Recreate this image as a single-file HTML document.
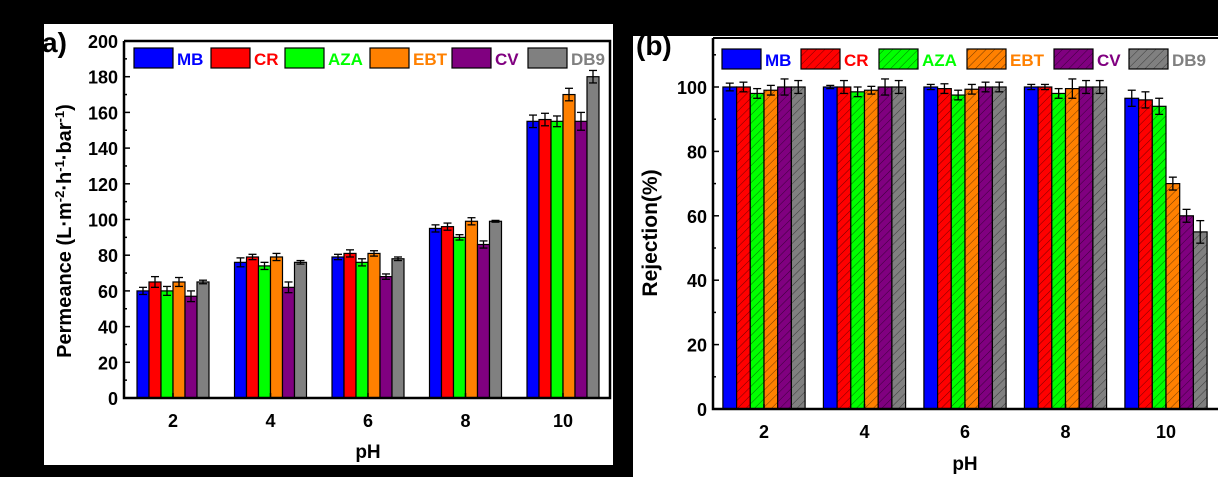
<!DOCTYPE html>
<html><head><meta charset="utf-8"><style>
html,body{margin:0;padding:0;background:#000;width:1218px;height:477px;overflow:hidden}
svg{display:block;font-family:"Liberation Sans",Arial,sans-serif;font-weight:bold}
</style></head><body>
<svg id="s" width="1218" height="477" viewBox="0 0 1218 477" xmlns="http://www.w3.org/2000/svg">
<defs>
<pattern id="h" patternUnits="userSpaceOnUse" width="6" height="6" patternTransform="rotate(45)">
<line x1="0" y1="0" x2="0" y2="6" stroke="#000" stroke-width="1" opacity="0.55"/></pattern>
<clipPath id="c1"><rect x="44" y="24" width="569" height="441"/></clipPath>
<clipPath id="c2"><rect x="633" y="36" width="585" height="441"/></clipPath>
</defs>
<rect x="0" y="0" width="1218" height="477" fill="#000"/>
<rect x="44" y="24" width="569" height="441" fill="#fff"/>
<rect x="633" y="36" width="585" height="441" fill="#fff"/>
<g id="g"></g>
<text x="42" y="52" font-size="28" fill="#000" clip-path="url(#c1)">a)</text>
<text x="636" y="55" font-size="28" fill="#000" clip-path="url(#c2)">(b)</text>
<text x="368" y="458" font-size="19" text-anchor="middle">pH</text>
<text x="965" y="470" font-size="19" text-anchor="middle">pH</text>
<text transform="translate(71,231) rotate(-90)" font-size="20" text-anchor="middle">Permeance (L·m<tspan dy="-7" font-size="13">-2</tspan><tspan dy="7">·h</tspan><tspan dy="-7" font-size="13">-1</tspan><tspan dy="7">·bar</tspan><tspan dy="-7" font-size="13">-1</tspan><tspan dy="7">)</tspan></text>
<text transform="translate(657,233) rotate(-90)" font-size="21" text-anchor="middle">Rejection(%)</text>
</svg>
<script>
var g=document.getElementById('g'),NS='http://www.w3.org/2000/svg';
function el(t,a,txt){var e=document.createElementNS(NS,t);for(var k in a)e.setAttribute(k,a[k]);if(txt!=null)e.textContent=txt;g.appendChild(e);return e;}
var cols=['#0000ff','#ff0000','#00ff00','#ff8000','#800080','#808080'];
var names=['MB','CR','AZA','EBT','CV','DB9'];
function panel(o){
 for(var i=0;i<5;i++){var cx=o.x0+i*o.dx;
  for(var j=0;j<6;j++){var v=o.d[i][j],x=cx-3*o.bw+j*o.bw,y=o.y0-v*o.k;
   el('rect',{x:x,y:y,width:o.bw,height:o.y0-y,fill:cols[j],stroke:'#000','stroke-width':1.2});
   if(o.hatch&&j>0)el('rect',{x:x,y:y,width:o.bw,height:o.y0-y,fill:'url(#h)'});
   var e=o.e[i][j]*o.k,mx=x+o.bw/2;
   el('line',{x1:mx,y1:y-e,x2:mx,y2:y+e,stroke:'#000','stroke-width':1.3});
   el('line',{x1:mx-4,y1:y-e,x2:mx+4,y2:y-e,stroke:'#000','stroke-width':1.3});
   el('line',{x1:mx-4,y1:y+e,x2:mx+4,y2:y+e,stroke:'#000','stroke-width':1.3});
  }
  el('text',{x:cx,y:o.y0+29,'font-size':18,'text-anchor':'middle'},o.lab[i]);
 }
 el('polyline',{points:o.ax+','+o.top+' '+o.ax+','+o.y0+' '+o.ar+','+o.y0+(o.box?' '+o.ar+','+o.top+' '+o.ax+','+o.top:''),fill:'none',stroke:'#000','stroke-width':2.5});
 if(!o.box)el('line',{x1:o.ax,y1:o.top,x2:o.ar,y2:o.top,stroke:'#000','stroke-width':2});
 for(var v=0;v<=o.max;v+=o.step/2){var y=o.y0-v*o.k,maj=(v%o.step==0);
  el('line',{x1:o.ax,y1:y,x2:o.ax+(maj?6:3),y2:y,stroke:'#000','stroke-width':1.5});
  if(maj&&v<=o.maxl)el('text',{x:o.ax-6,y:y+7,'font-size':18,'text-anchor':'end'},v);
 }
 for(var i=0;i<5;i++){var cx=o.x0+i*o.dx;el('line',{x1:cx,y1:o.y0,x2:cx,y2:o.y0-5,stroke:'#000','stroke-width':1.5});}
 for(var j=0;j<6;j++){var lx=o.lx[j];
  el('rect',{x:lx,y:o.ly,width:39,height:20,fill:cols[j],stroke:'#000','stroke-width':1.2});
  if(o.hatch&&j>0)el('rect',{x:lx,y:o.ly,width:39,height:20,fill:'url(#h)'});
  el('text',{x:lx+43,y:o.ly+17,'font-size':17,fill:cols[j]},names[j]);
 }
}
panel({x0:173,dx:97.5,bw:12,y0:398,k:1.785,ax:124,ar:610,top:41,max:200,maxl:200,step:20,box:true,hatch:false,
 lab:['2','4','6','8','10'],ly:48,lx:[134,211,285,370,452,528],
 d:[[60,65,60,65,57,65],[76,79,74,79,62,76],[79,81,76,81,68,78],[95,96,90,99,86,99],[155,156,155,170,155,180]],
 e:[[2,3,2.5,2.5,3,1],[2.5,1.5,2,2,3,1],[1.5,2,2,1.5,1.5,1],[2,2,1.5,2,2,0.5],[3.5,3.5,3,3.5,5,3.5]]});
panel({x0:764,dx:100.5,bw:13.7,y0:409,k:3.22,ax:713,ar:1218,top:38,max:110,maxl:100,step:20,box:false,hatch:true,
 lab:['2','4','6','8','10'],ly:49,lx:[722,801,879,967,1054,1129],
 d:[[100,100,98,99,100,100],[100,100,98.5,99,100,100],[100,99.5,97.5,99.3,100,100],[100,100,98,99.5,100,100],[96.5,96,94,70,60,55]],
 e:[[1.2,1.5,1.5,1.5,2.5,2],[0.5,2,1.5,1.2,2.5,2],[0.8,1.5,1.5,1.5,1.5,1.5],[0.8,0.8,1.5,3,2,2],[2.5,2.5,2.5,2,2,3.5]]});
</script>
</body></html>
